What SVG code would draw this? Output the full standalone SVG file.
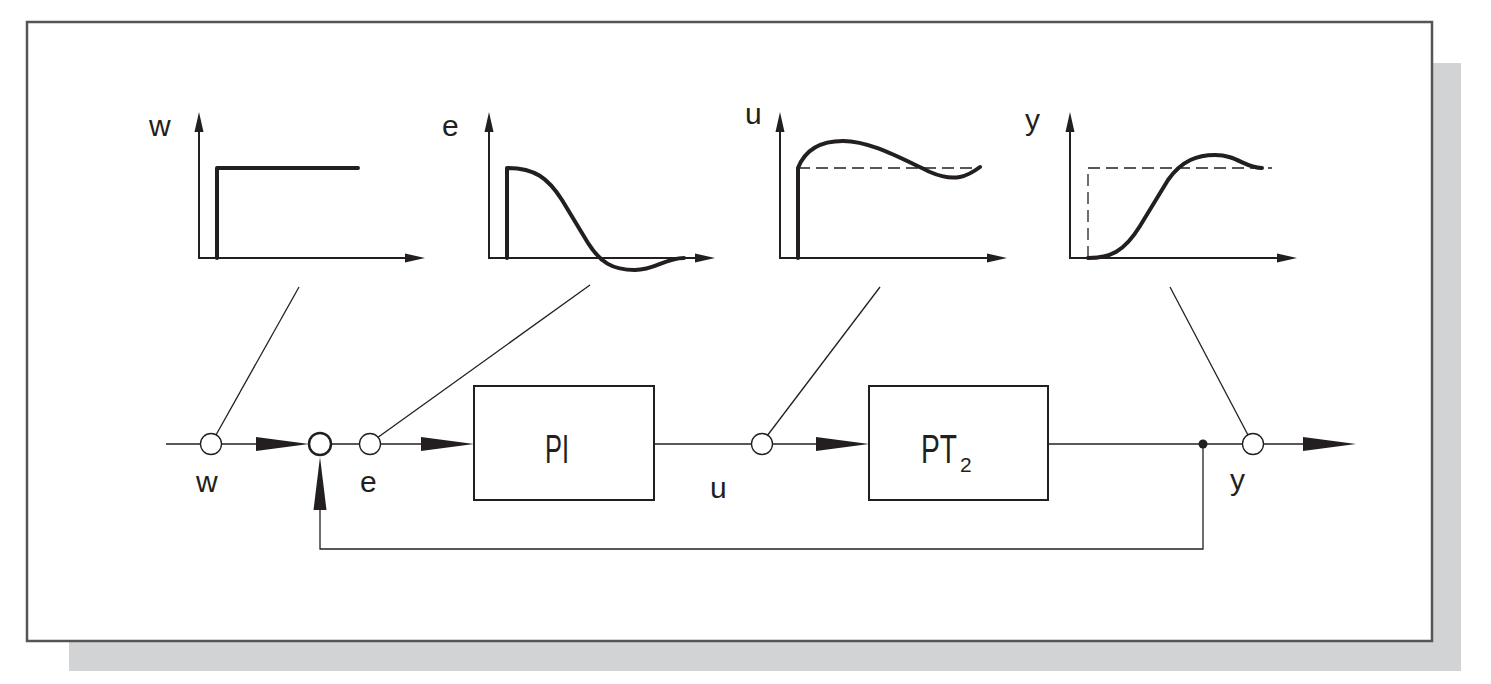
<svg xmlns="http://www.w3.org/2000/svg" width="1491" height="684" viewBox="0 0 1491 684">
<defs>
<style>
.ax{fill:none;stroke:#231f20;stroke-width:2}
.crv{fill:none;stroke:#231f20;stroke-width:4;stroke-linejoin:round;stroke-linecap:round}
.dash{fill:none;stroke:#231f20;stroke-width:1.3;stroke-dasharray:12,6}
.ln{fill:none;stroke:#231f20;stroke-width:1.3}
.ah{fill:#231f20}
.box{fill:#fff;stroke:#231f20;stroke-width:2}
.node{fill:#fff;stroke:#231f20;stroke-width:1.3}
.lbl{font-family:"Liberation Sans",Arial,sans-serif;font-size:30px;fill:#231f20}
.blk{font-family:"Liberation Sans",Arial,sans-serif;font-size:40px;fill:#231f20}
</style>
</defs>
<rect x="69" y="63" width="1392" height="608" fill="#d2d3d5"/>
<rect x="27" y="22" width="1405" height="619" fill="#fff" stroke="#555" stroke-width="2.5"/>

<g id="graph-w">
<path class="ax" d="M199,128 V258 H408"/>
<path class="ah" d="M199,112 L203.5,132 L194.5,132 Z M425,258 L405,253.5 L405,262.5 Z"/>
<path class="crv" d="M217,258 V168 H358" stroke-linecap="butt"/>
<text class="lbl" x="149" y="136">w</text>
</g>

<g id="graph-e">
<path class="ax" d="M489,128 V258 H698"/>
<path class="ah" d="M489,112 L493.5,132 L484.5,132 Z M715,258 L695,253.5 L695,262.5 Z"/>
<path class="crv" d="M507,258 V168 C535,168 548,178 562,200 L588,243 C600,262 612,270 635,270 C655,270 665,258 684,258" stroke-linecap="butt"/>
<text class="lbl" x="442" y="136">e</text>
</g>

<g id="graph-u">
<path class="ax" d="M780,128 V258 H990"/>
<path class="ah" d="M780,112 L784.5,132 L775.5,132 Z M1007,258 L987,253.5 L987,262.5 Z"/>
<path class="dash" d="M798,168 H980"/>
<path class="crv" d="M798,258 V168 C805,150 820,141 843,141 C870,141 900,158 930,172 C955,183 968,176 980,167" stroke-linecap="butt"/>
<text class="lbl" x="745" y="124">u</text>
</g>

<g id="graph-y">
<path class="ax" d="M1070,128 V258 H1280"/>
<path class="ah" d="M1070,112 L1074.5,132 L1065.5,132 Z M1297,258 L1277,253.5 L1277,262.5 Z"/>
<path class="dash" d="M1088,258 V168 H1272"/>
<path class="crv" d="M1088,258 C1110,258 1124,252 1140,226 L1168,180 C1182,160 1198,155 1215,155 C1237,155 1245,168 1262,168"/>
<text class="lbl" x="1025" y="130">y</text>
</g>

<g id="connectors">
<path class="ln" d="M166,444 H300"/>
<path class="ah" d="M309,444 L256,437 L256,451 Z"/>
<path class="ln" d="M331,444 H460"/>
<path class="ah" d="M474,444 L421,437 L421,451 Z"/>
<path class="ln" d="M655,444 H860"/>
<path class="ah" d="M869,444 L816,437 L816,451 Z"/>
<path class="ln" d="M1048,444 H1340"/>
<path class="ah" d="M1356,444 L1303,437 L1303,451 Z"/>
<path class="ln" d="M1203,444 V549 H320 V500"/>
<path class="ah" d="M320,457 L313.5,510 L326.5,510 Z"/>
<path class="ln" d="M299,287 L216,435"/>
<path class="ln" d="M590,285 L377,438"/>
<path class="ln" d="M880,287 L767,436"/>
<path class="ln" d="M1170,287 L1248,435"/>
<circle cx="1203" cy="444" r="4.5" fill="#231f20"/>
</g>

<g id="node-w"><circle class="node" cx="211" cy="444" r="10.5"/><text class="lbl" x="196" y="492">w</text></g>
<g id="node-sum"><circle cx="320" cy="444" r="11" fill="#fff" stroke="#231f20" stroke-width="2.5"/></g>
<g id="node-e"><circle class="node" cx="370" cy="444" r="10.5"/><text class="lbl" x="360" y="492">e</text></g>
<g id="node-PI"><rect class="box" x="474" y="386" width="180" height="114"/><text class="blk" x="545" y="463" textLength="24" lengthAdjust="spacingAndGlyphs">PI</text></g>
<g id="node-u"><circle class="node" cx="762" cy="444" r="10.5"/><text class="lbl" x="710" y="498">u</text></g>
<g id="node-PT2"><rect class="box" x="869" y="386" width="179" height="114"/><text class="blk" x="921" y="463"><tspan textLength="36" lengthAdjust="spacingAndGlyphs">PT</tspan><tspan x="960" dy="9" style="font-size:21px">2</tspan></text></g>
<g id="node-y"><circle class="node" cx="1253" cy="444" r="10.5"/><text class="lbl" x="1230" y="490">y</text></g>
</svg>
